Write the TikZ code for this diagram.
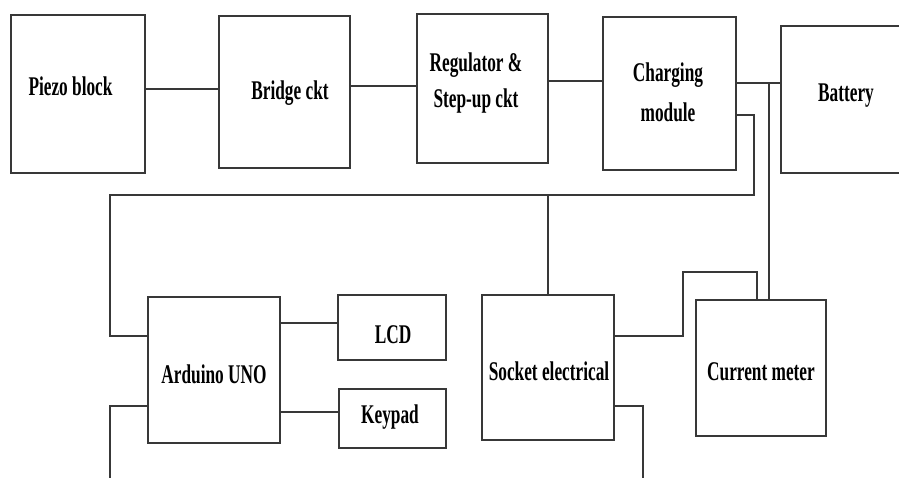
\documentclass[tikz,border=0pt]{standalone}
\usepackage{fontspec}
\usetikzlibrary{fit}
\newfontfamily\tnr[FakeStretch=0.64]{Liberation Serif}
\begin{document}
\begin{tikzpicture}[x=1pt,y=-1pt,
  wire/.style={draw=black!78,line width=1.7pt},
  blk/.style={draw=black!78,line width=1.7pt,fill=none,inner sep=0pt,outer sep=0pt},
  lbl/.style={anchor=base,inner sep=0pt,align=center,font=\tnr\bfseries\fontsize{27}{36}\selectfont}]
\useasboundingbox (0,0) rectangle (899,477);
\clip (0,0) rectangle (899,477);
% boxes
\node[blk,fit={(11,15)(145,173)}] (piezo) {};
\node[blk,fit={(219,16)(350,168)}] (bridge) {};
\node[blk,fit={(417,14)(548,163)}] (reg) {};
\node[blk,fit={(603,17)(736,170)}] (charge) {};
\node[blk,fit={(781,26)(950,173)}] (battery) {};
\node[blk,fit={(148,297)(280,443)}] (arduino) {};
\node[blk,fit={(338,295)(446,360)}] (lcd) {};
\node[blk,fit={(339,389)(446,448)}] (keypad) {};
\node[blk,fit={(482,295)(614,440)}] (socket) {};
\node[blk,fit={(696,300)(826,436)}] (meter) {};
% labels (multi-line: base = baseline of last line)
\node[lbl] (piezo-t) at (70.5,95) {Piezo block};
\node[lbl] (bridge-t) at (290,99) {Bridge ckt};
\node[lbl] (reg-t) at (476,107) {Regulator \&\\Step-up ckt};
\node[lbl] (charge-t) at (668,121) {Charging\\[4pt]module};
\node[lbl] (battery-t) at (846,101) {Battery};
\node[lbl] (arduino-t) at (214,383) {Arduino UNO};
\node[lbl] (lcd-t) at (393,343) {LCD};
\node[lbl] (keypad-t) at (390,423) {Keypad};
\node[lbl] (socket-t) at (549,380) {Socket electrical};
\node[lbl] (meter-t) at (761,380) {Current meter};
% free points
\coordinate (j1) at (769,83);
\coordinate (j2) at (754,195);
\coordinate (j3) at (110,195);
\coordinate (j4) at (548,195);
\coordinate (j5) at (683,272);
\coordinate (endA) at (110,480);
\coordinate (endS) at (643,480);
% connectors
\draw[wire] (piezo.east |- 0,89) -- (bridge.west |- 0,89);
\draw[wire] (bridge.east |- 0,86) -- (reg.west |- 0,86);
\draw[wire] (reg.east |- 0,81) -- (charge.west |- 0,81);
\draw[wire] (charge.east |- 0,83) -- (battery.west |- 0,83);
\draw[wire] (j1) -- (meter.north -| j1);
\draw[wire] (charge.east |- 0,115) -| (j2) -- (j3) |- (arduino.west |- 0,336);
\draw[wire] (j4) -- (socket.north -| j4);
\draw[wire] (arduino.east |- 0,323) -- (lcd.west |- 0,323);
\draw[wire] (arduino.east |- 0,412) -- (keypad.west |- 0,412);
\draw[wire] (arduino.west |- 0,406) -| (endA);
\draw[wire] (socket.east |- 0,336) -| (j5) -| (meter.north -| 757,0);
\draw[wire] (socket.east |- 0,406) -| (endS);
\end{tikzpicture}
\end{document}
